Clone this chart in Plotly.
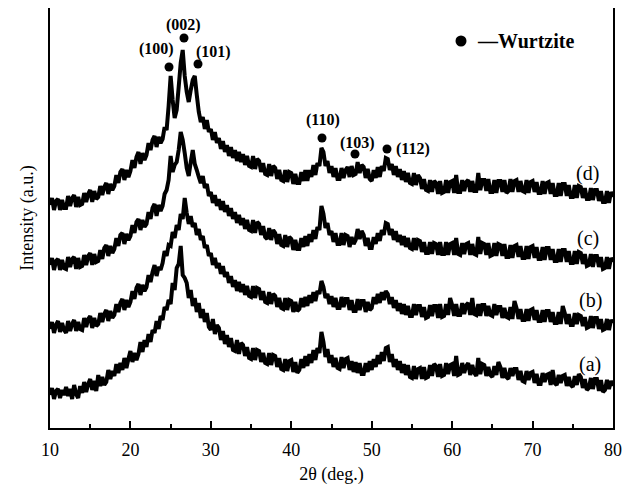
import numpy as np
import plotly.graph_objects as go

two_theta = np.linspace(10, 80, 281)

int_a = [33, 40, 29, 37, 39, 30, 38, 33, 41, 32, 39, 29, 43, 34, 30, 42, 35, 46, 36, 44,
         49, 38, 47, 37, 53, 42, 51, 43, 46, 58, 49, 57, 52, 64, 55, 65, 58, 70, 60, 69,
         77, 66, 75, 68, 74, 86, 76, 88, 81, 94, 86, 98, 95, 107, 99, 112, 108, 121, 118, 128,
         124, 145, 138, 160, 164, 182, 153, 150, 145, 130, 138, 122, 130, 116, 125, 110,
         119, 106, 115, 101, 98, 109, 94, 103, 100, 88, 97, 84, 93, 81, 90, 78,
         77, 88, 74, 85, 83, 72, 81, 70, 69, 80, 68, 78, 77, 66, 75, 65, 64, 75, 63, 73,
         72, 61, 70, 59, 58, 69, 57, 67, 68, 56, 66, 55, 58, 69, 60, 72, 62, 74, 65, 78,
         68, 80, 75, 96, 86, 71, 79, 65, 73, 61, 70, 60, 59, 71, 60, 69, 70, 58, 67, 56,
         66, 55, 65, 54, 54, 65, 56, 67, 58, 69, 61, 73, 64, 76, 67, 80, 81, 66, 74, 61,
         69, 58, 67, 55, 64, 53, 63, 51, 50, 62, 49, 59, 60, 49, 61, 50, 51, 63, 52, 64,
         62, 51, 64, 52, 53, 65, 54, 63, 64, 52, 72, 53, 54, 65, 55, 62, 65, 53, 63, 55,
         52, 70, 54, 64, 63, 52, 61, 53, 51, 62, 53, 66, 61, 50, 60, 51, 49, 60, 52, 59,
         59, 48, 57, 47, 46, 57, 48, 55, 56, 45, 54, 44, 44, 55, 46, 53, 54, 43, 58, 45,
         43, 53, 45, 52, 53, 42, 51, 43, 41, 52, 43, 54, 51, 40, 49, 38, 40, 50, 39, 49,
         49, 37, 48, 36, 38, 48, 39, 47, 42]

int_b = [99, 106, 95, 103, 107, 96, 105, 98, 95, 107, 97, 104, 108, 97, 106, 99, 98, 110, 101, 109,
         112, 100, 110, 102, 104, 115, 106, 114, 118, 107, 117, 110, 113, 124, 116, 125, 129, 118, 128, 121,
         126, 137, 129, 140, 144, 133, 143, 137, 141, 153, 146, 156, 163, 152, 161, 158, 165, 177, 172, 183,
         182, 196, 190, 203, 198, 214, 209, 230, 215, 204, 212, 201, 205, 193, 199, 188,
         192, 180, 183, 172, 175, 163, 170, 160, 165, 154, 162, 151, 156, 145, 152, 141,
         148, 137, 146, 136, 144, 133, 142, 132, 131, 142, 130, 140, 139, 128, 137, 126, 125, 136, 124, 134,
         132, 121, 130, 120, 119, 130, 118, 128, 127, 116, 126, 117, 119, 130, 121, 131, 122, 133, 125, 136,
         127, 137, 134, 147, 141, 130, 134, 124, 132, 121, 130, 120, 120, 131, 121, 129, 129, 118, 128, 117,
         117, 129, 118, 127, 127, 116, 126, 118, 120, 131, 124, 134, 125, 136, 128, 137, 134, 124, 131, 120,
         128, 117, 125, 114, 124, 113, 122, 112, 112, 124, 113, 122, 122, 111, 121, 110, 111, 123, 112, 122,
         122, 110, 124, 111, 112, 124, 113, 130, 123, 112, 124, 113, 113, 125, 114, 123, 125, 113, 130, 114,
         113, 124, 112, 123, 123, 112, 122, 113, 112, 124, 113, 121, 121, 110, 120, 111, 110, 121, 109, 127,
         120, 109, 119, 108, 108, 119, 107, 118, 119, 108, 118, 107, 107, 118, 106, 117, 117, 106, 116, 105,
         105, 116, 104, 122, 115, 104, 114, 103, 103, 115, 104, 113, 112, 102, 111, 100, 101, 112, 100, 110,
         110, 99, 109, 98, 99, 109, 98, 108, 105]

int_c = [163, 170, 158, 167, 169, 158, 168, 160, 159, 171, 161, 169, 171, 159, 170, 161, 162, 173, 163, 172,
         175, 163, 174, 166, 167, 178, 169, 180, 183, 172, 182, 175, 179, 190, 182, 193, 195, 184, 194, 188,
         192, 203, 195, 206, 209, 198, 208, 201, 204, 216, 209, 220, 224, 212, 223, 217, 222, 234, 238, 248,
         272, 256, 263, 266, 278, 296, 288, 275, 260, 252, 266, 278, 264, 258, 251, 245,
         252, 240, 244, 232, 236, 225, 233, 222, 229, 218, 227, 216, 223, 212, 220, 209,
         216, 205, 213, 203, 210, 199, 208, 198, 197, 208, 195, 206, 204, 193, 202, 191, 189, 200, 188, 198,
         195, 184, 194, 183, 182, 193, 181, 191, 189, 178, 188, 179, 179, 190, 181, 192, 182, 194, 186, 198,
         189, 201, 198, 222, 214, 200, 205, 193, 197, 186, 195, 184, 184, 195, 183, 193, 192, 181, 191, 184,
         188, 199, 189, 197, 193, 182, 190, 180, 180, 191, 184, 195, 187, 198, 193, 205, 204, 193, 199, 188,
         197, 186, 193, 183, 192, 181, 190, 180, 179, 190, 178, 188, 187, 176, 186, 175, 175, 186, 174, 185,
         184, 173, 186, 174, 174, 186, 173, 184, 185, 173, 190, 174, 173, 185, 174, 184, 185, 173, 184, 174,
         173, 191, 174, 185, 184, 173, 185, 172, 173, 185, 172, 184, 183, 172, 184, 171, 171, 183, 170, 182,
         183, 171, 182, 170, 170, 182, 169, 181, 182, 170, 181, 169, 169, 181, 168, 180, 180, 168, 179, 167,
         167, 179, 166, 178, 178, 166, 177, 165, 165, 177, 164, 176, 175, 164, 174, 162, 163, 174, 161, 172,
         172, 161, 171, 159, 160, 171, 159, 170, 166]

int_d = [223, 230, 218, 227, 229, 218, 228, 220, 220, 232, 222, 230, 233, 221, 231, 223, 224, 235, 226, 234,
         238, 226, 237, 229, 231, 242, 233, 241, 245, 234, 244, 238, 242, 253, 245, 256, 259, 248, 258, 251,
         257, 268, 260, 271, 276, 264, 275, 268, 273, 285, 278, 288, 292, 281, 291, 285, 289, 301, 298, 322,
         352, 328, 310, 318, 341, 365, 378, 352, 336, 326, 338, 348, 352, 333, 316, 306,
         311, 299, 308, 296, 299, 288, 296, 285, 290, 279, 287, 276, 283, 272, 281, 270,
         278, 267, 276, 266, 274, 263, 272, 262, 261, 272, 259, 269, 267, 256, 265, 254, 253, 264, 252, 262,
         260, 249, 258, 248, 247, 258, 246, 256, 255, 244, 254, 245, 245, 256, 247, 258, 247, 258, 251, 263,
         253, 265, 262, 280, 276, 262, 267, 255, 262, 251, 260, 249, 249, 260, 250, 258, 261, 251, 262, 253,
         254, 266, 255, 263, 261, 250, 259, 249, 247, 258, 250, 261, 251, 262, 257, 270, 269, 258, 264, 253,
         262, 251, 259, 248, 257, 246, 255, 245, 244, 255, 243, 253, 250, 239, 249, 238, 237, 248, 236, 247,
         245, 234, 247, 235, 236, 248, 235, 246, 247, 235, 253, 236, 236, 248, 237, 246, 248, 236, 247, 237,
         237, 255, 238, 248, 248, 237, 249, 236, 236, 248, 235, 247, 247, 236, 248, 235, 237, 249, 236, 247,
         248, 236, 247, 237, 236, 248, 235, 246, 247, 236, 246, 235, 235, 247, 234, 245, 246, 234, 245, 233,
         233, 245, 232, 244, 244, 232, 243, 231, 231, 243, 230, 242, 241, 230, 240, 229, 229, 240, 228, 238,
         238, 227, 237, 226, 226, 237, 225, 236, 231]

peak_labels = ["(100)", "(002)", "(101)", "(110)", "(103)", "(112)"]
peak_pos = [24.8, 26.66, 28.4, 43.82, 47.92, 51.9]
peak_dot_y = [361, 390, 364, 290, 274, 279]
label_x = [23.18, 26.66, 30.27, 43.94, 48.17, 52.8]
label_y = [379, 403, 376, 308, 285, 279]
label_anchor = ["center", "center", "center", "center", "center", "left"]

curve_names = ["(a)", "(b)", "(c)", "(d)"]
curve_label_x = [77.14, 77.26, 76.89, 76.77]
curve_label_y = [64, 128, 190, 255]

x_ticks = [10, 20, 30, 40, 50, 60, 70, 80]

FONT = "Liberation Serif"
fig = go.Figure()
for ys in [int_a, int_b, int_c, int_d]:
    fig.add_trace(go.Scatter(x=two_theta, y=ys, mode="lines",
                             line=dict(color="black", width=4, simplify=False), showlegend=False,
                             hoverinfo="skip"))

fig.add_trace(go.Scatter(x=peak_pos, y=peak_dot_y, mode="markers",
                         marker=dict(color="black", size=9), showlegend=False))
fig.add_trace(go.Scatter(x=[61.1], y=[387], mode="markers",
                         marker=dict(color="black", size=11), showlegend=False))

for t, lx, ly, an in zip(peak_labels, label_x, label_y, label_anchor):
    fig.add_annotation(x=lx, y=ly, text=f"<b>{t}</b>", showarrow=False, xanchor=an,
                       font=dict(family=FONT, size=16, color="black"))
for t, lx, ly in zip(curve_names, curve_label_x, curve_label_y):
    fig.add_annotation(x=lx, y=ly, text=t, showarrow=False,
                       font=dict(family=FONT, size=20, color="black"))
fig.add_annotation(x=62.9, y=387, text="<b>—Wurtzite</b>", showarrow=False, xanchor="left",
                   font=dict(family=FONT, size=20, color="black"))

fig.update_layout(
    width=630, height=482,
    margin=dict(l=42, r=25, t=0, b=62, autoexpand=False),
    plot_bgcolor="white", paper_bgcolor="white",
    font=dict(family=FONT, size=17, color="black"),
    xaxis=dict(range=[10, 80], tickvals=x_ticks, ticks="inside", ticklen=7, tickwidth=1.5,
               tickcolor="black", showline=True, linecolor="black", linewidth=1.5, mirror=True,
               showgrid=False, zeroline=False, automargin=False, ticklabelstandoff=5,
               minor=dict(dtick=5, tick0=10, ticks="inside", ticklen=4, tickwidth=1.5, tickcolor="black"),
               title=dict(text="2θ (deg.)", font=dict(size=18), standoff=8),
               tickfont=dict(size=18)),
    yaxis=dict(range=[0, 420], showticklabels=False, ticks="", showline=True, linecolor="black",
               linewidth=1.5, mirror=True, showgrid=False, zeroline=False, automargin=False,
               title=dict(text="Intensity (a.u.)", font=dict(size=18), standoff=10)),
)

fig.write_html("out.html")
